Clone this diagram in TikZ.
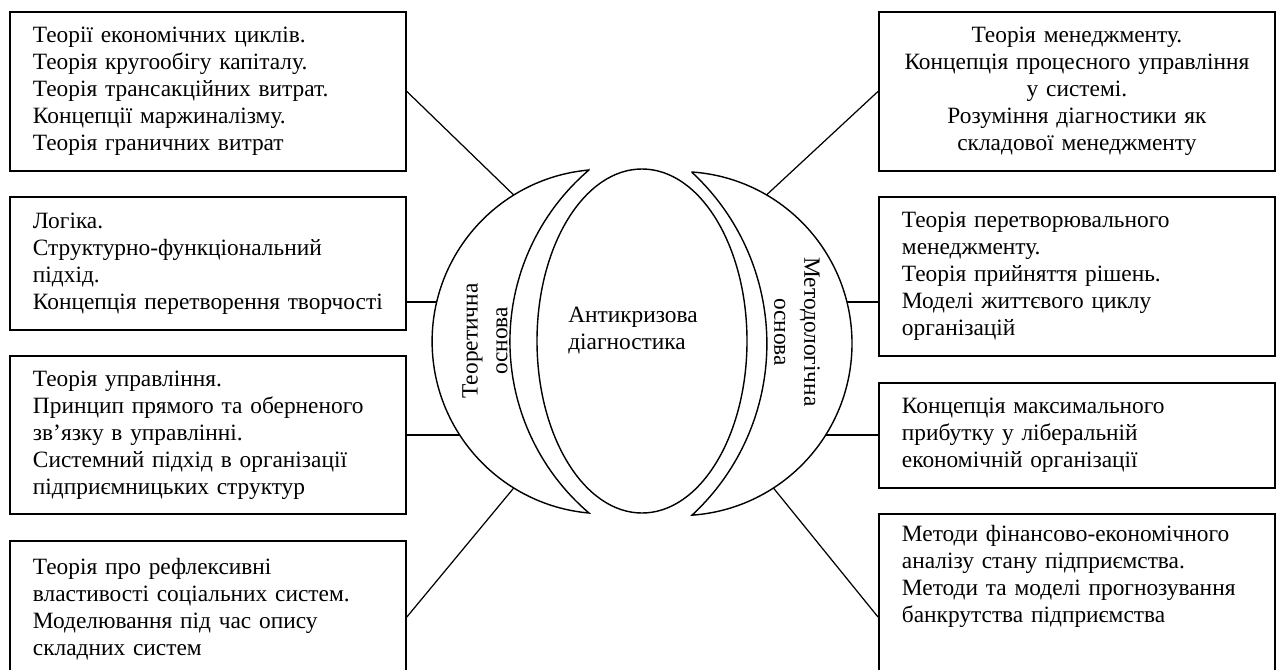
\documentclass[tikz,border=0pt]{standalone}
\usepackage{fontspec}
\setmainfont{Liberation Serif}
\newcommand\boxfont{\fontsize{13.3}{15.4}\selectfont}

\tikzset{
	box/.style={draw, line width=1.1pt, minimum width=7.92cm, text width=7cm, align=left, font=\boxfont, anchor=north west},
	tailbox/.style={box, text height=10pt, text depth=4cm, inner ysep=#1},
	link/.style={line width=0.7pt},
	shell/.style={line width=0.8pt}
}

\begin{document}
\begin{tikzpicture}[x=0.02cm,y=-0.02cm]
		\useasboundingbox (0,0) rectangle (1280,669);
		\clip (0,0) rectangle (1280,669);

		\node[box, minimum height=3.18cm] (L1) at (9,11) {Теорії економічних циклів.\\ Теорія кругообігу капіталу.\\ Теорія трансакційних витрат.\\ Концепції маржиналізму.\\ Теорія граничних витрат};
		\node[box, minimum height=2.66cm] (L2) at (9,196) {Логіка.\\ Структурно-функціональний\\ підхід.\\ Концепція перетворення творчості};
		\node[box, minimum height=3.16cm] (L3) at (9,355) {Теорія управління.\\ Принцип прямого та оберненого\\ зв’язку в управлінні.\\ Системний підхід в організації\\ підприємницьких структур};
		\node[tailbox=8.8pt] (L4) at (9,540) {Теорія про рефлексивні\\ властивості соціальних систем.\\ Моделювання під час опису\\ складних систем};

		\node[box, align=center, minimum height=3.18cm] (R1) at (878,11) {Теорія менеджменту.\\ Концепція процесного управління\\ у системі.\\ Розуміння діагностики як\\ складової менеджменту};
		\node[box, minimum height=3.18cm] (R2) at (878,196) {Теорія перетворювального\\ менеджменту.\\ Теорія прийняття рішень.\\ Моделі життєвого циклу\\ організацій};
		\node[box, minimum height=2.1cm] (R3) at (878,382) {Концепція максимального\\ прибутку у ліберальній\\ економічній організації};
		\node[tailbox=5.4pt] (R4) at (878,513) {Методи фінансово-економічного\\ аналізу стану підприємства.\\ Методи та моделі прогнозування\\ банкрутства підприємства};

		\draw[shell] (642,341) ellipse [x radius=105, y radius=172];
		\draw[shell] (589,170) arc [start angle=264.9, end angle=95.1, radius=172.2]
			arc [start angle=130.5, end angle=229.5, radius=225.6] -- cycle;
		\draw[shell] (692,172) arc [start angle=-86, end angle=86, radius=172]
			arc [start angle=47.2, end angle=-47.2, radius=233.6] -- cycle;

		\node[align=left, font=\boxfont] (diag) at (633,331) {Антикризова\\діагностика};
		\node[rotate=90, align=center, font=\fontsize{13.3}{17}\selectfont] (theory) at (485,341) {Теоретична\\основа};
		\node[rotate=-90, align=center, font=\fontsize{13.3}{17}\selectfont] (method) at (797,332) {Методологічна\\основа};

		\coordinate (lc) at (604.2,341.5);
		\coordinate (rc) at (680,343.6);
		\foreach \a [count=\i] in {238.3,193.3,147.1,121.7}
			\path (lc) ++(\a:172.2) coordinate (l\i);
		\foreach \a [count=\i] in {-59.8,-14,32.1,57.1}
			\path (rc) ++(\a:172) coordinate (r\i);

		\draw[link] (L1.east) -- (l1);
		\draw[link] (l2 -| L2.east) -- (l2);
		\draw[link] (l3 -| L3.east) -- (l3);
		\draw[link] ([yshift=-43.8pt]L4.north east) -- (l4);
		\draw[link] (R1.west) -- (r1);
		\draw[link] (r2 -| R2.west) -- (r2);
		\draw[link] (r3 -| R3.west) -- (r3);
		\draw[link] ([yshift=-59.2pt]R4.north west) -- (r4);
	\end{tikzpicture}
\end{document}
